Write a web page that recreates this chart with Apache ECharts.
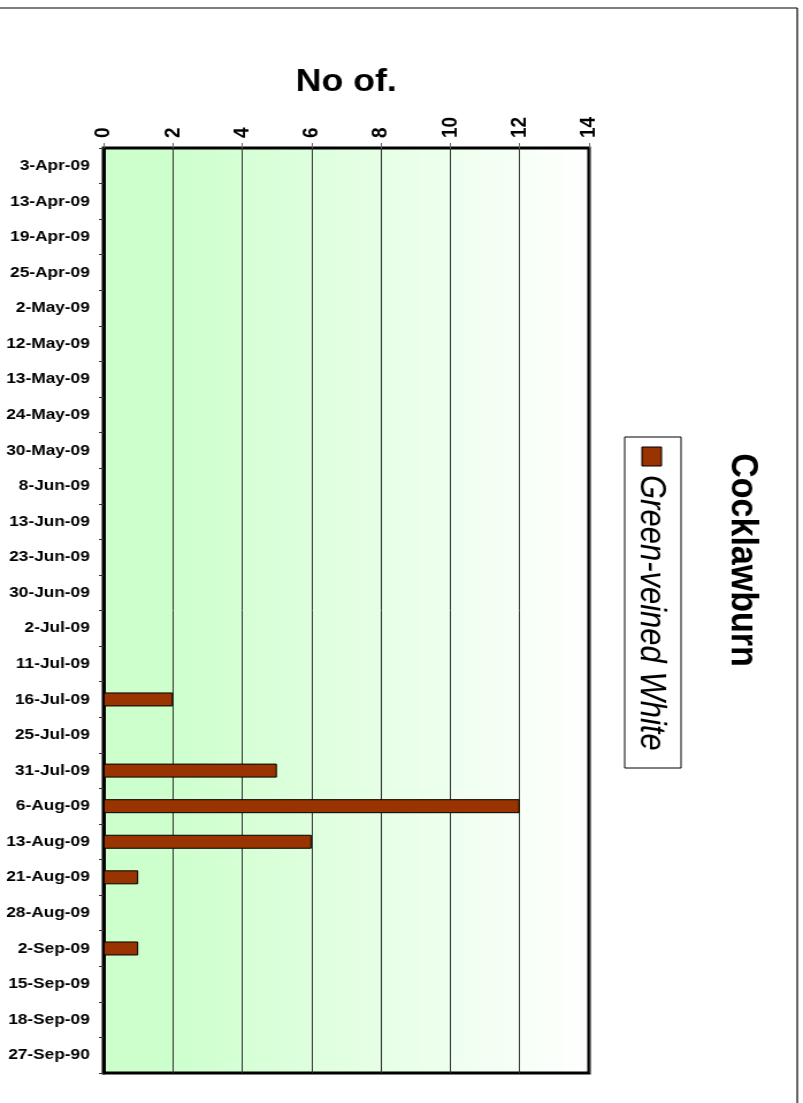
<!DOCTYPE html>
<html>
<head>
<meta charset="utf-8">
<script src="https://cdn.jsdelivr.net/npm/echarts@6/dist/echarts.min.js"></script>
<style>
  html, body { margin: 0; padding: 0; background: #fff; overflow: hidden; }
  #wrap { width: 803px; height: 1103px; overflow: hidden; }
  /* chart is laid out narrower and widened so glyphs get the broad look of the printout */
  #chart { width: 698px; height: 1103px; transform: scaleX(1.1504); transform-origin: 0 0; }
</style>
</head>
<body>
<div id="wrap"><div id="chart"></div></div>
<script>
const siteName = 'Cocklawburn';
const axisTitle = 'No of.';
const seriesName = 'Green-veined White';

const visitDates = [
  '3-Apr-09', '13-Apr-09', '19-Apr-09', '25-Apr-09', '2-May-09', '12-May-09',
  '13-May-09', '24-May-09', '30-May-09', '8-Jun-09', '13-Jun-09', '23-Jun-09',
  '30-Jun-09', '2-Jul-09', '11-Jul-09', '16-Jul-09', '25-Jul-09', '31-Jul-09',
  '6-Aug-09', '13-Aug-09', '21-Aug-09', '28-Aug-09', '2-Sep-09', '15-Sep-09',
  '18-Sep-09', '27-Sep-90'
];

const counts = [
  0, 0, 0, 0, 0, 0,
  0, 0, 0, 0, 0, 0,
  0, 0, 0, 2, 0, 5,
  12, 6, 1, 0, 1, 0,
  0, 0
];

const countTicks = [0, 2, 4, 6, 8, 10, 12, 14];

const chart = echarts.init(document.getElementById('chart'), null, { renderer: 'canvas' });

const FONT = 'Liberation Sans, Arial, sans-serif';
const W = 698;

chart.setOption({
  animation: false,
  backgroundColor: '#ffffff',
  grid: {
    left: 90, right: W - 512, top: 148, bottom: 30,
    show: true,
    borderColor: '#000',
    borderWidth: 3,
    backgroundColor: new echarts.graphic.LinearGradient(0, 0, 1, 0, [
      { offset: 0, color: '#ccffcc' },
      { offset: 0.12, color: '#ccffcc' },
      { offset: 1, color: '#ffffff' }
    ])
  },
  xAxis: {
    type: 'value',
    position: 'top',
    min: countTicks[0],
    max: countTicks[countTicks.length - 1],
    interval: 2,
    axisLine: { show: false },
    axisTick: { show: true, length: 5, lineStyle: { color: '#666', width: 1 } },
    axisLabel: {
      rotate: -90,
      margin: 10,
      color: '#000',
      fontFamily: FONT,
      fontWeight: 'bold',
      fontSize: 19
    },
    splitLine: { show: true, lineStyle: { color: '#333', width: 1 } }
  },
  yAxis: {
    type: 'category',
    inverse: true,
    data: visitDates,
    axisLine: { show: true, lineStyle: { color: '#000', width: 3 } },
    axisTick: { show: true, length: 4, lineStyle: { color: '#333', width: 1 } },
    axisLabel: {
      margin: 12,
      color: '#000',
      fontFamily: FONT,
      fontWeight: 'bold',
      fontSize: 15
    },
    splitLine: { show: false }
  },
  series: [{
    name: seriesName,
    type: 'bar',
    data: counts,
    barWidth: 14,
    itemStyle: { color: '#993300', borderColor: '#000', borderWidth: 1 }
  }],
  graphic: [
    // frame lines along the top and right of the page
    { type: 'line', shape: { x1: 0, y1: 8, x2: 693, y2: 8 }, style: { stroke: '#000', lineWidth: 1.2 } },
    { type: 'line', shape: { x1: 693, y1: 8, x2: 693, y2: 1103 }, style: { stroke: '#000', lineWidth: 1.2 } },
    // value axis title
    {
      type: 'text', x: 301, y: 82,
      style: { text: axisTitle, font: 'bold 31px ' + FONT, fill: '#000', align: 'center', verticalAlign: 'middle' }
    },
    // site title, turned to read downwards
    {
      type: 'text', x: 645, y: 560, rotation: -Math.PI / 2,
      style: { text: siteName, font: 'bold 34px ' + FONT, fill: '#000', align: 'center', verticalAlign: 'middle' }
    },
    // legend box
    { type: 'rect', shape: { x: 543, y: 437, width: 49, height: 331 }, style: { fill: '#fff', stroke: '#000', lineWidth: 1 } },
    { type: 'rect', shape: { x: 558, y: 447, width: 17, height: 19 }, style: { fill: '#993300', stroke: '#000', lineWidth: 1 } },
    {
      type: 'text', x: 566, y: 475, rotation: -Math.PI / 2,
      style: { text: seriesName, font: 'italic 31px ' + FONT, fill: '#000', align: 'left', verticalAlign: 'middle' }
    }
  ]
});
</script>
</body>
</html>
